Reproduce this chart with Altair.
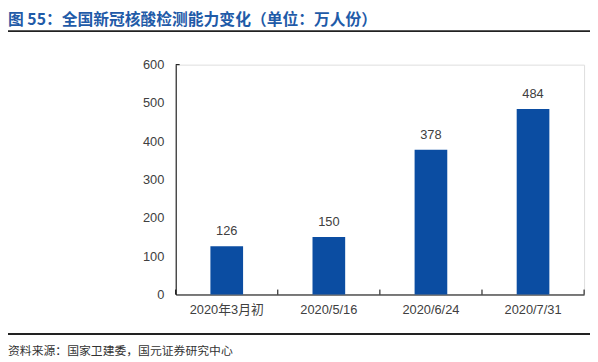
import altair as alt
import pandas as pd

categories = ["2020年3月初", "2020/5/16", "2020/6/24", "2020/7/31"]
values = [126, 150, 378, 484]
boundaries = [0, 1, 2, 3, 4]
y_ticks = [0, 100, 200, 300, 400, 500, 600]
title_text = "图 55：全国新冠核酸检测能力变化（单位：万人份）"
source_text = "资料来源：国家卫建委，国元证券研究中心"

df = pd.DataFrame({"cat": categories, "val": values})
bdf = pd.DataFrame({"b": boundaries})

FONT = "Liberation Sans, Arial, Noto Sans CJK SC"
W, H = 414, 233

x = alt.X("cat:N", sort=categories, title=None,
          scale=alt.Scale(paddingInner=0.68, paddingOuter=0.34),
          axis=alt.Axis(labelAngle=0, labelFontSize=13, labelColor="#404040",
                        labelFont=FONT, ticks=False, domainColor="#000000",
                        domainWidth=1, labelPadding=9))
y = alt.Y("val:Q", title=None,
          scale=alt.Scale(domain=[0, 600]),
          axis=alt.Axis(values=y_ticks, tickCount=7, grid=False, labelOverlap=False,
                        labelFontSize=13, labelColor="#404040", labelFont=FONT,
                        ticks=False, domainColor="#000000", domainWidth=1,
                        labelPadding=12))

bars = alt.Chart(df).mark_bar(color="#0B4DA2").encode(x=x, y=y)
labels = alt.Chart(df).mark_text(baseline="bottom", dy=-8, fontSize=13,
                                 color="#404040", font=FONT).encode(
    x=x, y=y, text="val:Q")

base = alt.layer(bars, labels)

ticks = alt.Chart(bdf).mark_rule(color="#000000", strokeWidth=1).encode(
    x=alt.X("b:Q", scale=alt.Scale(domain=[0, 4]), axis=None),
    y=alt.value(H), y2=alt.value(H - 5))

ytop = alt.Chart(bdf.head(1)).mark_rule(color="#000000").encode(
    x=alt.value(0), x2=alt.value(4), y=alt.value(0))

title = alt.Chart(pd.DataFrame({"t": [title_text]})).mark_text(
    align="left", baseline="alphabetic", fontSize=16, fontWeight="bold",
    color="#1F5BA8", font="Noto Sans CJK SC").encode(
    x=alt.value(-170), y=alt.value(23 - 63), text="t:N")

topline = alt.Chart(pd.DataFrame({"t": [0]})).mark_rule(
    color="#222222", strokeWidth=2).encode(
    x=alt.value(-170), x2=alt.value(W + 6), y=alt.value(29 - 63))

botline = alt.Chart(pd.DataFrame({"t": [0]})).mark_rule(
    color="#222222", strokeWidth=2).encode(
    x=alt.value(-170), x2=alt.value(W + 6), y=alt.value(336 - 63))

source = alt.Chart(pd.DataFrame({"t": [source_text]})).mark_text(
    align="left", baseline="alphabetic", fontSize=12,
    color="#333333", font="Noto Sans CJK SC").encode(
    x=alt.value(-170), y=alt.value(357 - 63), text="t:N")

chart = alt.layer(base, ticks, ytop, title, topline, botline, source).resolve_scale(
    x="independent"
).properties(
    width=W, height=H,
    autosize=alt.AutoSizeParams(type="none"),
    padding={"left": 170, "top": 55, "right": 6, "bottom": 66},
).configure_view(stroke=None).configure(background="white")

chart.save("out.html", embed_options={"renderer": "svg", "actions": False})
